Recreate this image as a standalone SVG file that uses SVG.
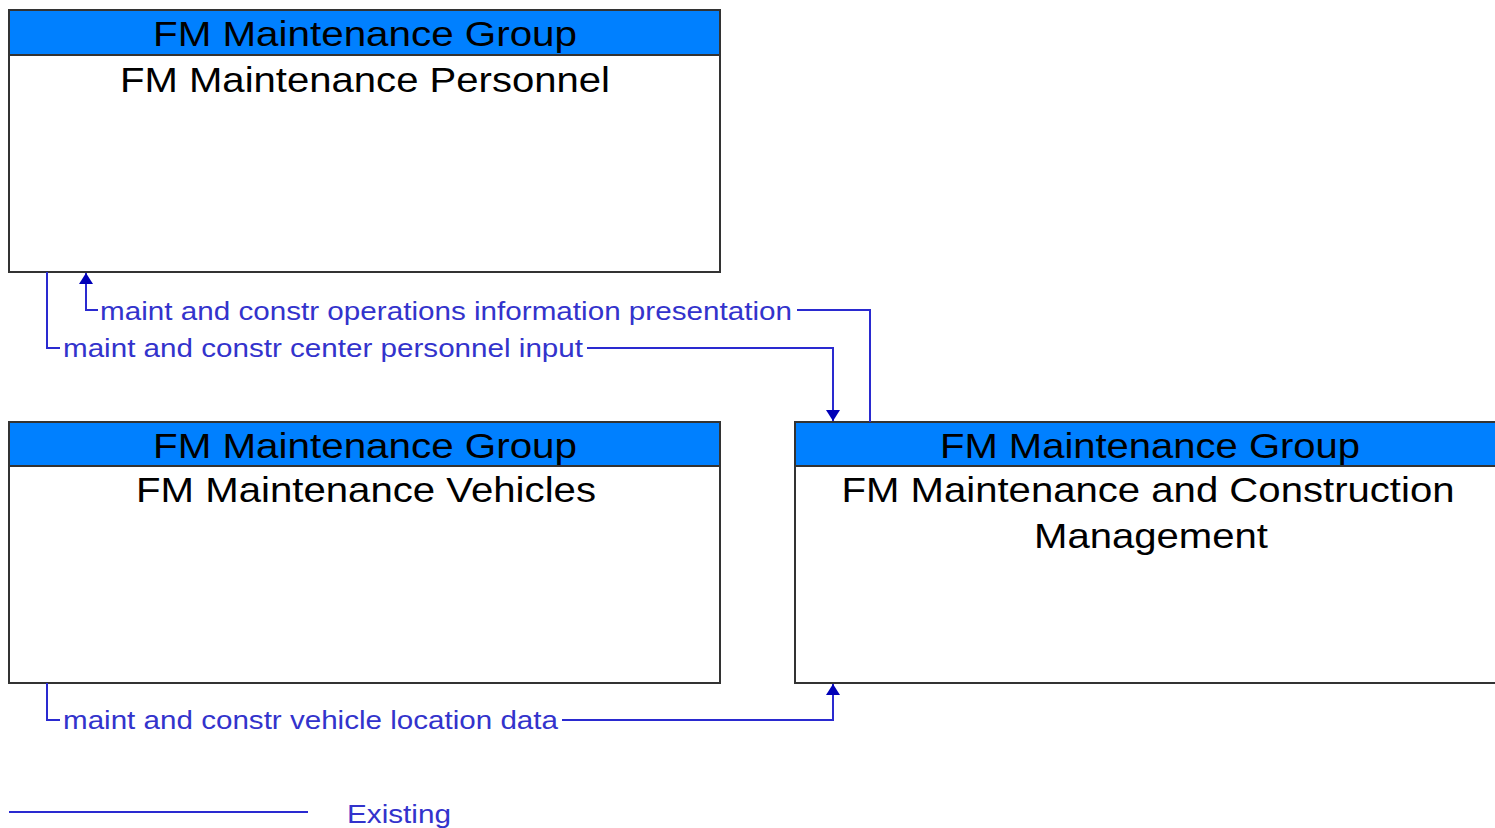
<svg xmlns="http://www.w3.org/2000/svg" width="1495" height="828" viewBox="0 0 1495 828">
<defs>
<style>
.box{fill:#fff;stroke:#333;stroke-width:2}
.hdr{fill:#0080ff;stroke:#333;stroke-width:2}
.t{font-family:"Liberation Sans",Arial,sans-serif;font-size:35px;fill:#000;text-anchor:middle}
.lbl{font-family:"Liberation Sans",Arial,sans-serif;font-size:26px;fill:#3333cc}
.ln{fill:none;stroke:#2a2ad0;stroke-width:2}
</style>
<marker id="ah" viewBox="0 0 11 14" refX="11" refY="7" markerWidth="11" markerHeight="14" markerUnits="userSpaceOnUse" orient="auto">
<path d="M0,0 L11,7 L0,14 Z" fill="#0000b8"/>
</marker>
</defs>
<g id="node-personnel">
<rect class="box" x="9" y="10" width="711" height="262"/>
<rect class="hdr" x="9" y="10" width="711" height="45"/>
<text class="t" x="365" y="46" textLength="424" lengthAdjust="spacingAndGlyphs">FM Maintenance Group</text>
<text class="t" x="365" y="92" textLength="490" lengthAdjust="spacingAndGlyphs">FM Maintenance Personnel</text>
</g>
<g id="node-vehicles">
<rect class="box" x="9" y="422" width="711" height="261"/>
<rect class="hdr" x="9" y="422" width="711" height="44"/>
<text class="t" x="365" y="458" textLength="424" lengthAdjust="spacingAndGlyphs">FM Maintenance Group</text>
<text class="t" x="366" y="502" textLength="460" lengthAdjust="spacingAndGlyphs">FM Maintenance Vehicles</text>
</g>
<g id="node-mcm">
<rect class="box" x="795" y="422" width="710" height="261"/>
<rect class="hdr" x="795" y="422" width="710" height="44"/>
<text class="t" x="1150" y="458" textLength="420" lengthAdjust="spacingAndGlyphs">FM Maintenance Group</text>
<text class="t" x="1148" y="502" textLength="613" lengthAdjust="spacingAndGlyphs">FM Maintenance and Construction</text>
<text class="t" x="1151" y="548" textLength="234" lengthAdjust="spacingAndGlyphs">Management</text>
</g>
<g id="connectors">
<path class="ln" d="M870,422 V310 H797" />
<path class="ln" d="M98,310 H86 V273" marker-end="url(#ah)"/>
<text class="lbl" x="100" y="320" textLength="692" lengthAdjust="spacingAndGlyphs">maint and constr operations information presentation</text>
<path class="ln" d="M47,272 V348 H60"/>
<path class="ln" d="M587,348 H833 V421" marker-end="url(#ah)"/>
<text class="lbl" x="63" y="357" textLength="520" lengthAdjust="spacingAndGlyphs">maint and constr center personnel input</text>
<path class="ln" d="M47,683 V720 H60"/>
<path class="ln" d="M562,720 H833 V684" marker-end="url(#ah)"/>
<text class="lbl" x="63" y="729" textLength="495" lengthAdjust="spacingAndGlyphs">maint and constr vehicle location data</text>
</g>
<g id="legend">
<line class="ln" x1="9" y1="812" x2="308" y2="812"/>
<text class="lbl" x="347" y="823" textLength="104" lengthAdjust="spacingAndGlyphs">Existing</text>
</g>
</svg>
